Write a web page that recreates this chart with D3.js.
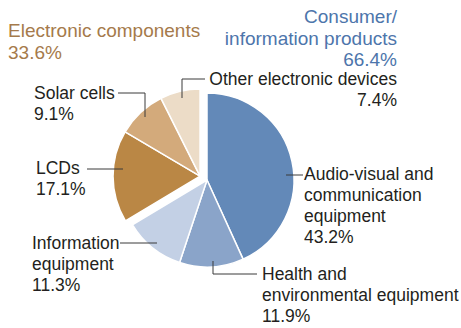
<!DOCTYPE html>
<html><head><meta charset="utf-8">
<script src="https://cdn.jsdelivr.net/npm/d3@7"></script>
<style>
html,body{margin:0;padding:0;background:#fff;}
svg{display:block;font-family:"Liberation Sans",Arial,Helvetica,sans-serif;}
</style></head>
<body>
<svg id="chart" width="461" height="328"></svg>
<script>
// Data
const categories = ["Audio-visual and communication equipment","Health and environmental equipment","Information equipment","LCDs","Solar cells","Other electronic devices"];
const values = [43.2, 11.9, 11.3, 17.1, 9.1, 7.4];
const groups = ["consumer","consumer","consumer","components","components","components"];
const colors = ["#6389b8","#8aa4c9","#c3d0e5","#ba8745","#d3aa7b","#ecdcc7"];
const groupTitles = [
  {lines:["Electronic components","33.6%"], color:"#a57a4b"},
  {lines:["Consumer/","information products","66.4%"], color:"#4d75ab"}
];
const labelLines = [
  ["Audio-visual and","communication","equipment","43.2%"],
  ["Health and","environmental equipment","11.9%"],
  ["Information","equipment","11.3%"],
  ["LCDs","17.1%"],
  ["Solar cells","9.1%"],
  ["Other electronic devices","7.4%"]
];

const svg = d3.select("#chart");
const cx = 207, cy = 180, R = 87, explode = 8, fs = 17.5, lh = 21, tfs = 19, tlh = 21.5;

const pie = d3.pie().sort(null).startAngle(0).endAngle(2*Math.PI);
const arcs = pie(values);
const arc = d3.arc().innerRadius(0).outerRadius(R);

// group offset for components
const compArcs = arcs.filter((d,i)=>groups[i]==="components");
const gStart = d3.min(compArcs, d=>d.startAngle), gEnd = d3.max(compArcs, d=>d.endAngle);
const gMid = (gStart+gEnd)/2;
const off = [Math.sin(gMid)*explode, -Math.cos(gMid)*explode];

const g = svg.append("g").attr("transform",`translate(${cx},${cy})`);
g.selectAll("path").data(arcs).join("path")
  .attr("d", arc)
  .attr("fill",(d,i)=>colors[i])
  .attr("stroke","#fff").attr("stroke-width",1.5).attr("stroke-linejoin","round")
  .attr("transform",(d,i)=>groups[i]==="components"?`translate(${off[0]},${off[1]})`:null);

// Leader lines (layout)
const leaders = [
  [[286,175],[303,175]],
  [[213,261],[213,274],[257,274]],
  [[157,243],[120,243]],
  [[123,169],[87,169]],
  [[145,117],[145,93],[118,93]],
  [[182,98],[182,79],[205,79]]
];
svg.selectAll("path.leader").data(leaders).join("path")
  .attr("class","leader")
  .attr("d", d=>d3.line()(d))
  .attr("fill","none").attr("stroke","#3a3a3a").attr("stroke-width",1);

// label positions (layout)
const labelPos = [
  {x:304,y:180,anchor:"start"},
  {x:262,y:280,anchor:"start"},
  {x:32,y:249,anchor:"start"},
  {x:36,y:174,anchor:"start"},
  {x:34,y:99,anchor:"start"},
  {x:397,y:85,anchor:"end"}
];
labelLines.forEach((lines,i)=>{
  const p = labelPos[i];
  const t = svg.append("text").attr("x",p.x).attr("y",p.y)
    .attr("text-anchor",p.anchor).attr("font-size",fs).attr("fill","#231f20");
  lines.forEach((l,j)=>t.append("tspan").attr("x",p.x).attr("y",p.y+j*lh).text(l));
});

const titlePos = [{x:8,y:37,anchor:"start"},{x:397,y:23,anchor:"end"}];
groupTitles.forEach((gt,i)=>{
  const p = titlePos[i];
  const t = svg.append("text").attr("x",p.x).attr("y",p.y)
    .attr("text-anchor",p.anchor).attr("font-size",tfs).attr("fill",gt.color);
  gt.lines.forEach((l,j)=>t.append("tspan").attr("x",p.x).attr("y",p.y+j*tlh).text(l));
});
</script>
</body></html>
